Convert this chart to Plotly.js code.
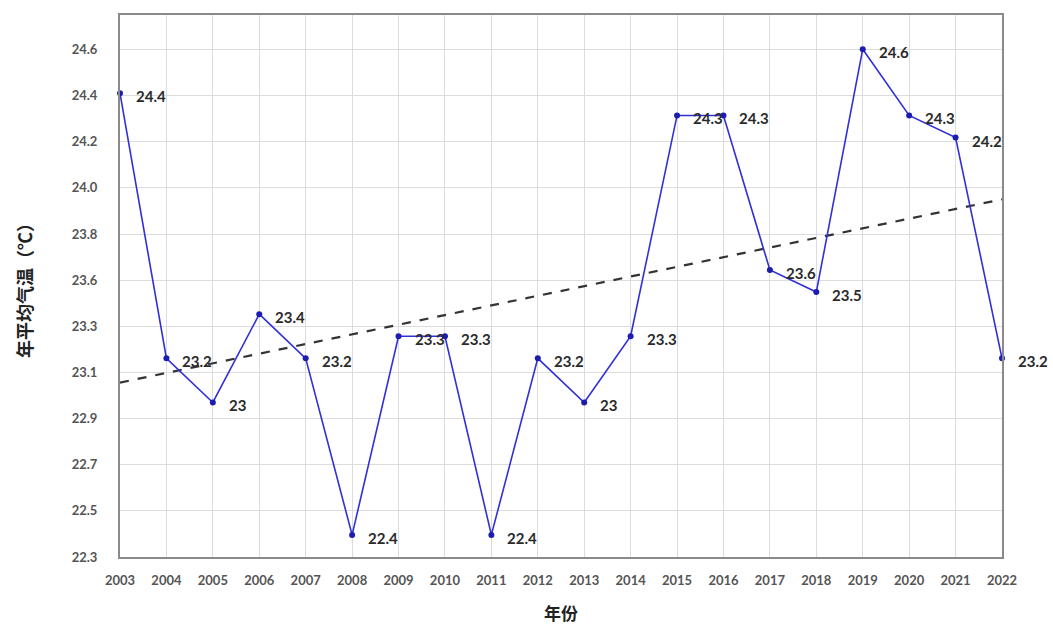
<!DOCTYPE html>
<html>
<head>
<meta charset="utf-8">
<script src="https://cdn.plot.ly/plotly-3.0.1.min.js"></script>
<style>html,body{margin:0;padding:0;background:#fff;}#chart{width:1053px;height:625px;}</style>
</head>
<body>
<div id="chart"></div>
<script>
const years = [2003,2004,2005,2006,2007,2008,2009,2010,2011,2012,2013,2014,2015,2016,2017,2018,2019,2020,2021,2022];
const temps = [24.4,23.2,23.0,23.4,23.2,22.4,23.3,23.3,22.4,23.2,23.0,23.3,24.3,24.3,23.6,23.5,24.6,24.3,24.2,23.2];
const tempLabels = ["24.4","23.2","23","23.4","23.2","22.4","23.3","23.3","22.4","23.2","23","23.3","24.3","24.3","23.6","23.5","24.6","24.3","24.2","23.2"];
const trendYears = [2003, 2022];
const trendValues = [23.09, 23.92];
const yTickValues = [22.3,22.509,22.718,22.927,23.136,23.345,23.554,23.763,23.972,24.181,24.39,24.599];
const yTickLabels = ["22.3","22.5","22.7","22.9","23.1","23.3","23.6","23.8","24.0","24.2","24.4","24.6"];
const xTickLabels = years.map(String);

const lineTrace = {
  x: years, y: temps, type: 'scatter', mode: 'lines+markers',
  line: {color: '#3030d8', width: 1.6},
  marker: {color: '#1c1cb0', size: 6},
  hoverinfo: 'x+y', cliponaxis: false
};
const trendTrace = {
  x: trendYears, y: trendValues, type: 'scatter', mode: 'lines',
  line: {color: '#333333', width: 2.2, dash: 'dash'},
  hoverinfo: 'skip'
};

const annotations = years.map((yr, i) => ({
  x: yr, y: temps[i], xref: 'x', yref: 'y',
  text: tempLabels[i], showarrow: false,
  xanchor: 'left', yanchor: 'middle', xshift: 14, yshift: -3,
  font: {family: 'Lato, "Open Sans", sans-serif', size: 15, color: '#2a2a2a', weight: 'bold'}
}));

const layout = {
  width: 1053, height: 625,
  margin: {l: 120, r: 51, t: 15, b: 68},
  paper_bgcolor: '#ffffff', plot_bgcolor: '#ffffff',
  showlegend: false,
  xaxis: {
    range: [2003, 2022], tickvals: years, ticktext: xTickLabels,
    showgrid: true, gridcolor: '#dcdcdc', gridwidth: 1,
    showline: true, linecolor: '#8a8a8a', linewidth: 2, mirror: true,
    zeroline: false, ticks: '',
    ticklabelstandoff: 10,
    tickfont: {family: 'Lato, "Open Sans", sans-serif', size: 13, color: '#555555', weight: 'bold'},
    title: {text: '年份', font: {family: '"Noto Sans CJK SC", sans-serif', size: 17, color: '#222222', weight: 'bold'}, standoff: 22}
  },
  yaxis: {
    range: [22.3, 24.755], tickvals: yTickValues, ticktext: yTickLabels,
    showgrid: true, gridcolor: '#dcdcdc', gridwidth: 1,
    showline: true, linecolor: '#8a8a8a', linewidth: 2, mirror: true,
    zeroline: false, ticks: '',
    ticklabelstandoff: 18,
    tickfont: {family: 'Lato, "Open Sans", sans-serif', size: 13, color: '#555555', weight: 'bold'},
    title: {text: '年平均气温（℃）', font: {family: '"Noto Sans CJK SC", sans-serif', size: 18, color: '#222222', weight: 'bold'}, standoff: 34}
  },
  annotations: annotations
};

Plotly.newPlot('chart', [trendTrace, lineTrace], layout, {displayModeBar: false, staticPlot: true});
</script>
</body>
</html>
